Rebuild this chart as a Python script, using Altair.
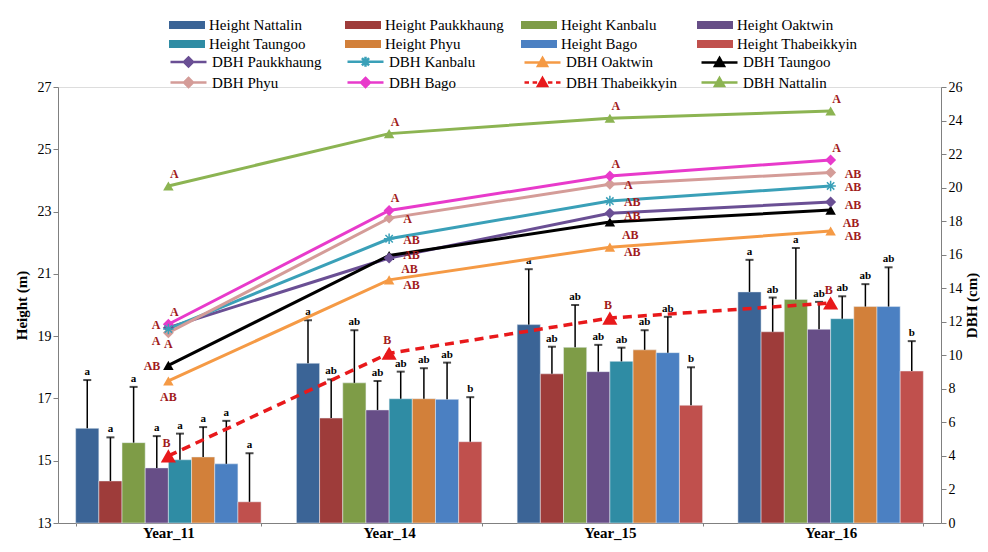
import altair as alt
import pandas as pd

YEARS = ["Year_11", "Year_14", "Year_15", "Year_16"]
SITES = ["Nattalin", "Paukkhaung", "Kanbalu", "Oaktwin", "Taungoo", "Phyu", "Bago", "Thabeikkyin"]

# Height (m) means per year, in SITES order
H_Y11 = [16.04, 14.35, 15.58, 14.77, 15.03, 15.12, 14.90, 13.68]
H_Y14 = [18.13, 16.37, 17.50, 16.63, 16.99, 16.99, 16.97, 15.61]
H_Y15 = [19.37, 17.79, 18.64, 17.86, 18.19, 18.56, 18.47, 16.78]
H_Y16 = [20.42, 19.14, 20.18, 19.22, 19.56, 19.95, 19.95, 17.88]
# standard deviations (upper error bar)
SD_Y11 = [1.55, 1.40, 1.79, 1.02, 0.84, 0.96, 1.38, 1.56]
SD_Y14 = [1.38, 1.24, 1.69, 0.93, 0.87, 0.98, 1.18, 1.43]
SD_Y15 = [1.78, 0.87, 1.36, 0.86, 0.44, 0.63, 1.15, 1.22]
SD_Y16 = [1.03, 1.10, 1.65, 0.88, 0.72, 0.72, 1.26, 0.96]
# significance letters
L_Y11 = ["a", "a", "a", "a", "a", "a", "a", "a"]
L_Y14 = ["a", "ab", "ab", "ab", "ab", "ab", "ab", "b"]
L_Y15 = ["a", "ab", "ab", "ab", "ab", "ab", "ab", "b"]
L_Y16 = ["a", "ab", "a", "ab", "ab", "ab", "ab", "b"]

H_COLORS = ["#3B6496", "#9E3C3A", "#7E9C47", "#674E87", "#2F8CA4", "#D2803A", "#4B80C2", "#C0504D"]

DBH_SITES = ["Paukkhaung", "Kanbalu", "Oaktwin", "Taungoo", "Phyu", "Bago", "Thabeikkyin", "Nattalin"]
DBH_PAUKKHAUNG = [11.65, 15.80, 18.47, 19.14]
DBH_KANBALU = [11.57, 16.95, 19.20, 20.10]
DBH_OAKTWIN = [8.47, 14.50, 16.45, 17.41]
DBH_TAUNGOO = [9.40, 15.95, 17.95, 18.66]
DBH_PHYU = [11.35, 18.18, 20.20, 20.90]
DBH_BAGO = [11.85, 18.64, 20.69, 21.65]
DBH_THABEIKKYIN = [4.00, 10.12, 12.22, 13.12]
DBH_NATTALIN = [20.10, 23.22, 24.14, 24.57]
DBH_L_PAUKKHAUNG = ["A", "AB", "AB", "AB"]
DBH_L_KANBALU = ["A", "AB", "AB", "AB"]
DBH_L_OAKTWIN = ["AB", "AB", "AB", "AB"]
DBH_L_TAUNGOO = ["AB", "AB", "AB", "AB"]
DBH_L_PHYU = ["A", "A", "A", "AB"]
DBH_L_BAGO = ["A", "A", "A", "A"]
DBH_L_THABEIKKYIN = ["B", "B", "B", "B"]
DBH_L_NATTALIN = ["A", "A", "A", "A"]
DBH_COLORS = ["#6A4F94", "#3AA0B8", "#F59A45", "#000000", "#D49C98", "#E83ACB", "#E8191B", "#8CB452"]

FONT = "Liberation Serif"

# ---- build tables ----
H_MEANS = [H_Y11, H_Y14, H_Y15, H_Y16]
H_SDS = [SD_Y11, SD_Y14, SD_Y15, SD_Y16]
H_LETS = [L_Y11, L_Y14, L_Y15, L_Y16]
H_SERIES = ["Height " + s for s in SITES]
rows = []
for yi, yr in enumerate(YEARS):
    for si, s in enumerate(SITES):
        m = H_MEANS[yi][si]
        rows.append({"Year": yr, "Series": "Height " + s, "H": m,
                     "Top": m + H_SDS[yi][si], "Letter": H_LETS[yi][si]})
hdf = pd.DataFrame(rows)

DBH_VALS = [DBH_PAUKKHAUNG, DBH_KANBALU, DBH_OAKTWIN, DBH_TAUNGOO, DBH_PHYU, DBH_BAGO, DBH_THABEIKKYIN, DBH_NATTALIN]
DBH_LETS = [DBH_L_PAUKKHAUNG, DBH_L_KANBALU, DBH_L_OAKTWIN, DBH_L_TAUNGOO, DBH_L_PHYU, DBH_L_BAGO, DBH_L_THABEIKKYIN, DBH_L_NATTALIN]
DBH_SERIES = ["DBH " + s for s in DBH_SITES]
rows = []
for si, s in enumerate(DBH_SITES):
    for yi, yr in enumerate(YEARS):
        rows.append({"Year": yr, "Series": "DBH " + s, "DBH": DBH_VALS[si][yi], "Letter": DBH_LETS[si][yi]})
ddf = pd.DataFrame(rows)

# ---- encodings ----
x_enc = alt.X("Year:N", sort=YEARS,
              scale=alt.Scale(domain=YEARS, paddingInner=0.16, paddingOuter=0.08),
              axis=alt.Axis(title=None, labelFont=FONT, labelFontSize=15, labelFontWeight="bold",
                            labelColor="black", labelAngle=0, tickBand="extent", tickSize=3,
                            labelPadding=-1, domainColor="#808080", tickColor="#808080"))
xo_enc = alt.XOffset("Series:N", sort=H_SERIES,
                     scale=alt.Scale(domain=H_SERIES, paddingInner=0, paddingOuter=0))

left_axis = alt.Axis(title="Height (m)", orient="left", values=list(range(13, 28, 2)),
                     grid=False, labelFont=FONT, labelFontSize=14, labelColor="black",
                     titleFont=FONT, titleFontSize=15, titleFontWeight="bold", titleColor="black",
                     domainColor="#808080", tickColor="#808080", tickSize=5, titlePadding=8)
left_scale = alt.Scale(domain=[13, 27], zero=False, nice=False)

bar_legend = alt.Legend(title=None, orient="none", legendX=120, legendY=-71, columns=4, direction="horizontal",
                        symbolType="M-2,-0.45H2V0.45H-2Z", symbolSize=324, symbolStrokeWidth=0,
                        labelFont=FONT, labelFontSize=15, labelColor="black", labelOffset=13,
                        gridAlign="all", columnPadding=15, rowPadding=2, labelLimit=300)

bars = alt.Chart(hdf).mark_bar(stroke="#e8eef5", strokeWidth=0.5).encode(
    x=x_enc, xOffset=xo_enc,
    y=alt.Y("H:Q", scale=left_scale, axis=left_axis), y2=alt.datum(13),
    fill=alt.Fill("Series:N", scale=alt.Scale(domain=H_SERIES, range=H_COLORS), legend=bar_legend),
)
err = alt.Chart(hdf).mark_rule(color="black", strokeWidth=1.5).encode(
    x=x_enc, xOffset=xo_enc, y=alt.Y("H:Q", scale=left_scale, axis=left_axis), y2="Top:Q")
cap = alt.Chart(hdf).mark_tick(color="black", thickness=2, size=8).encode(
    x=x_enc, xOffset=xo_enc, y=alt.Y("Top:Q", scale=left_scale, axis=left_axis))
lets = alt.Chart(hdf).mark_text(dy=-8, font=FONT, fontWeight="bold", fontSize=11, color="black").encode(
    x=x_enc, xOffset=xo_enc, y=alt.Y("Top:Q", scale=left_scale, axis=left_axis), text="Letter:N")

left = alt.layer(bars, err, cap, lets)

# ---- right (DBH) ----
right_axis = alt.Axis(title="DBH (cm)", orient="right", values=list(range(0, 27, 2)),
                      grid=False, labelFont=FONT, labelFontSize=14, labelColor="black",
                      titleFont=FONT, titleFontSize=15, titleFontWeight="bold", titleColor="black",
                      titleAngle=270, titleX=30, titleY=218, titleAlign="center", titleBaseline="middle",
                      domainColor="#808080", tickColor="#808080", tickSize=5)
y_right = alt.Y("DBH:Q", scale=alt.Scale(domain=[0, 26], nice=False), axis=right_axis)

# drawing colours (same colours as the legend scale, domain listed in reverse)
sscale = alt.Scale(domain=DBH_SERIES[::-1], range=DBH_COLORS[::-1])
stroke_nl = alt.Stroke("Series:N", scale=sscale, legend=None)
fill_nl = alt.Fill("Series:N", scale=sscale, legend=None)

solid = alt.Chart(ddf).mark_line(strokeWidth=3).encode(
    x=x_enc, y=y_right, stroke=stroke_nl
).transform_filter(alt.datum.Series != "DBH Thabeikkyin")
dashed = alt.Chart(ddf).mark_line(strokeWidth=3.5, strokeDash=[9, 6]).encode(
    x=x_enc, y=y_right, stroke=stroke_nl
).transform_filter(alt.datum.Series == "DBH Thabeikkyin")

tri = alt.Chart(ddf).mark_point(shape="triangle-up", filled=True, size=110, opacity=1).encode(
    x=x_enc, y=y_right, fill=fill_nl
).transform_filter(alt.FieldOneOfPredicate(field="Series",
                   oneOf=["DBH Oaktwin", "DBH Taungoo", "DBH Nattalin"]))
tri_big = alt.Chart(ddf).mark_point(shape="triangle-up", filled=True, size=230, opacity=1).encode(
    x=x_enc, y=y_right, fill=fill_nl
).transform_filter(alt.datum.Series == "DBH Thabeikkyin")
dia = alt.Chart(ddf).mark_point(shape="diamond", filled=True, size=120, opacity=1).encode(
    x=x_enc, y=y_right, fill=fill_nl
).transform_filter(alt.FieldOneOfPredicate(field="Series",
                   oneOf=["DBH Paukkhaung", "DBH Phyu", "DBH Bago"]))
ast = alt.Chart(ddf).mark_point(
    shape="M-1,0H1M0,-1V1M-0.7,-0.7L0.7,0.7M-0.7,0.7L0.7,-0.7",
    filled=False, size=110, strokeWidth=1.5, opacity=1).encode(
    x=x_enc, y=y_right, stroke=stroke_nl
).transform_filter(alt.datum.Series == "DBH Kanbalu")

LBL = dict(font=FONT, fontWeight="bold", fontSize=12, color="#A11B1B")


def lab(sites, years, dx, dy, align):
    ser = ["DBH " + s for s in sites]
    return alt.Chart(ddf).mark_text(dx=dx, dy=dy, align=align, **LBL).encode(
        x=x_enc, y=y_right, text="Letter:N"
    ).transform_filter(
        alt.FieldOneOfPredicate(field="Series", oneOf=ser)
    ).transform_filter(
        alt.FieldOneOfPredicate(field="Year", oneOf=years)
    )


labels = [
    lab(["Nattalin", "Bago"], YEARS, 6, -12, "center"),
    lab(["Thabeikkyin"], YEARS, -2, -13, "center"),
    lab(["Kanbalu", "Phyu"], YEARS[1:], 14, 1, "left"),
    lab(["Paukkhaung"], ["Year_14"], 14, -3, "left"),
    lab(["Paukkhaung"], ["Year_15", "Year_16"], 14, 3, "left"),
    lab(["Oaktwin"], YEARS[1:], 14, 5, "left"),
    lab(["Taungoo"], YEARS[1:], 12, 13, "left"),
    lab(["Kanbalu"], ["Year_11"], -8, -4, "right"),
    lab(["Phyu"], ["Year_11"], -8, 8, "right"),
    lab(["Taungoo"], ["Year_11"], -8, 1, "right"),
    lab(["Paukkhaung", "Oaktwin"], ["Year_11"], 0, 16, "center"),
]

LINE = "M-2,0H2"
DASH = "M-2,0H-1.5M-1.1,0H-0.6M0.6,0H1.1M1.5,0H2"
DIA = "M0,-0.5L0.5,0L0,0.5L-0.5,0ZM0,-0.25L0.25,0L0,0.25L-0.25,0Z"
TRI = "M0,-0.5L0.5,0.4H-0.5ZM0,-0.2L0.22,0.25H-0.22Z"
AST = "M0,-0.55V0.55M-0.4,-0.4L0.4,0.4M-0.4,0.4L0.4,-0.4"
DBH_SHAPES = [LINE + DIA, LINE + AST, LINE + TRI, LINE + TRI, LINE + DIA, LINE + DIA, DASH + TRI, LINE + TRI]

dbh_legend = alt.Legend(title=None, orient="none", legendX=120, legendY=-36, columns=4, direction="horizontal",
                        symbolSize=324, symbolStrokeWidth=2.5,
                        labelFont=FONT, labelFontSize=15, labelColor="black", labelOffset=13,
                        gridAlign="all", columnPadding=18, rowPadding=0, labelLimit=300)

# legend-only layer: its marks sit outside the clipped view, only the legend is seen
legend_layer = alt.Chart(ddf).mark_point(filled=False, strokeWidth=2.5, opacity=1, clip=True).encode(
    x=x_enc, y=alt.value(-2000),
    color=alt.Color("Series:N", scale=alt.Scale(domain=DBH_SERIES, range=DBH_COLORS), legend=dbh_legend),
    shape=alt.Shape("Series:N", scale=alt.Scale(domain=DBH_SERIES, range=DBH_SHAPES), legend=dbh_legend),
)

right = alt.layer(solid, dashed, tri, dia, ast, tri_big, *labels, legend_layer)

chart = alt.layer(left, right).resolve_scale(y="independent", fill="independent").properties(
    width=883, height=436,
    autosize=alt.AutoSizeParams(type="none"),
    padding={"left": 50, "top": 79, "right": 39, "bottom": 18},
).configure_view(strokeWidth=0).configure(background="white")

chart.save("out.html", embed_options={"renderer": "svg", "actions": False})
